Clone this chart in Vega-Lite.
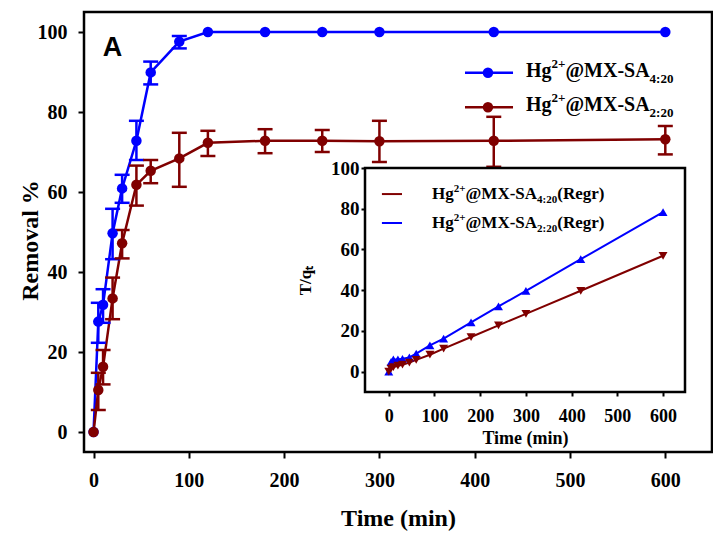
{
  "$schema": "https://vega.github.io/schema/vega-lite/v6.json",
  "width": 628,
  "height": 440,
  "autosize": {"type": "none"},
  "padding": {"left": 84, "top": 12, "right": 1, "bottom": 83},
  "background": "white",
  "config": {
    "view": {"stroke": "black", "strokeWidth": 2.5},
    "font": "Liberation Serif",
    "axis": {
      "labelFont": "Liberation Serif",
      "labelFontWeight": "bold",
      "titleFont": "Liberation Serif",
      "titleFontWeight": "bold",
      "labelColor": "black",
      "titleColor": "black",
      "tickColor": "black",
      "tickWidth": 2,
      "grid": false,
      "domain": false,
      "labelFlush": false,
      "labelOverlap": false
    },
    "text": {"font": "Liberation Serif", "fontWeight": "bold", "color": "black", "align": "left", "baseline": "alphabetic"}
  },
  "datasets": {
    "removal": [
      {"sample": "Hg2+@MX-SA4:20", "t": 0, "removal": 0},
      {"sample": "Hg2+@MX-SA4:20", "t": 5, "removal": 27.6, "lo": 22.3, "hi": 32.3},
      {"sample": "Hg2+@MX-SA4:20", "t": 10, "removal": 31.8, "lo": 27.3, "hi": 35.7},
      {"sample": "Hg2+@MX-SA4:20", "t": 20, "removal": 49.7, "lo": 43.2, "hi": 55.8},
      {"sample": "Hg2+@MX-SA4:20", "t": 30, "removal": 60.9, "lo": 57.3, "hi": 64.3},
      {"sample": "Hg2+@MX-SA4:20", "t": 45, "removal": 72.8, "lo": 68.0, "hi": 77.8},
      {"sample": "Hg2+@MX-SA4:20", "t": 60, "removal": 89.9, "lo": 86.9, "hi": 92.6},
      {"sample": "Hg2+@MX-SA4:20", "t": 90, "removal": 97.6, "lo": 95.9, "hi": 99.0},
      {"sample": "Hg2+@MX-SA4:20", "t": 120, "removal": 100},
      {"sample": "Hg2+@MX-SA4:20", "t": 180, "removal": 100},
      {"sample": "Hg2+@MX-SA4:20", "t": 240, "removal": 100},
      {"sample": "Hg2+@MX-SA4:20", "t": 300, "removal": 100},
      {"sample": "Hg2+@MX-SA4:20", "t": 420, "removal": 100},
      {"sample": "Hg2+@MX-SA4:20", "t": 600, "removal": 100},
      {"sample": "Hg2+@MX-SA2:20", "t": 0, "removal": 0},
      {"sample": "Hg2+@MX-SA2:20", "t": 5, "removal": 10.5, "lo": 5.5, "hi": 14.8},
      {"sample": "Hg2+@MX-SA2:20", "t": 10, "removal": 16.3, "lo": 11.9, "hi": 20.5},
      {"sample": "Hg2+@MX-SA2:20", "t": 20, "removal": 33.4, "lo": 28.2, "hi": 38.6},
      {"sample": "Hg2+@MX-SA2:20", "t": 30, "removal": 47.2, "lo": 43.4, "hi": 50.5},
      {"sample": "Hg2+@MX-SA2:20", "t": 45, "removal": 61.8, "lo": 56.6, "hi": 66.6},
      {"sample": "Hg2+@MX-SA2:20", "t": 60, "removal": 65.3, "lo": 62.2, "hi": 68.0},
      {"sample": "Hg2+@MX-SA2:20", "t": 90, "removal": 68.4, "lo": 61.3, "hi": 74.8},
      {"sample": "Hg2+@MX-SA2:20", "t": 120, "removal": 72.3, "lo": 69.0, "hi": 75.3},
      {"sample": "Hg2+@MX-SA2:20", "t": 180, "removal": 72.8, "lo": 69.7, "hi": 75.7},
      {"sample": "Hg2+@MX-SA2:20", "t": 240, "removal": 72.8, "lo": 70.0, "hi": 75.5},
      {"sample": "Hg2+@MX-SA2:20", "t": 300, "removal": 72.7, "lo": 67.5, "hi": 77.8},
      {"sample": "Hg2+@MX-SA2:20", "t": 420, "removal": 72.8, "lo": 66.3, "hi": 78.8},
      {"sample": "Hg2+@MX-SA2:20", "t": 600, "removal": 73.2, "lo": 69.4, "hi": 76.5}
    ],
    "kinetics": [
      {"series": "SA2:20 (Regr)", "t": 0, "tq": 0},
      {"series": "SA2:20 (Regr)", "t": 5, "tq": 4.8},
      {"series": "SA2:20 (Regr)", "t": 10, "tq": 6.0},
      {"series": "SA2:20 (Regr)", "t": 20, "tq": 6.0},
      {"series": "SA2:20 (Regr)", "t": 30, "tq": 6.3},
      {"series": "SA2:20 (Regr)", "t": 45, "tq": 7.0},
      {"series": "SA2:20 (Regr)", "t": 60, "tq": 8.8},
      {"series": "SA2:20 (Regr)", "t": 90, "tq": 12.9},
      {"series": "SA2:20 (Regr)", "t": 120, "tq": 16.2},
      {"series": "SA2:20 (Regr)", "t": 180, "tq": 24.2},
      {"series": "SA2:20 (Regr)", "t": 240, "tq": 32.0},
      {"series": "SA2:20 (Regr)", "t": 300, "tq": 39.7},
      {"series": "SA2:20 (Regr)", "t": 420, "tq": 55.2},
      {"series": "SA2:20 (Regr)", "t": 600, "tq": 78.3},
      {"series": "SA4:20 (Regr)", "t": 0, "tq": 0},
      {"series": "SA4:20 (Regr)", "t": 5, "tq": 1.5},
      {"series": "SA4:20 (Regr)", "t": 10, "tq": 2.2},
      {"series": "SA4:20 (Regr)", "t": 20, "tq": 2.9},
      {"series": "SA4:20 (Regr)", "t": 30, "tq": 3.4},
      {"series": "SA4:20 (Regr)", "t": 45, "tq": 4.4},
      {"series": "SA4:20 (Regr)", "t": 60, "tq": 5.8},
      {"series": "SA4:20 (Regr)", "t": 90, "tq": 8.3},
      {"series": "SA4:20 (Regr)", "t": 120, "tq": 11.3},
      {"series": "SA4:20 (Regr)", "t": 180, "tq": 17.0},
      {"series": "SA4:20 (Regr)", "t": 240, "tq": 22.7},
      {"series": "SA4:20 (Regr)", "t": 300, "tq": 28.4},
      {"series": "SA4:20 (Regr)", "t": 420, "tq": 39.7},
      {"series": "SA4:20 (Regr)", "t": 600, "tq": 56.9}
    ]
  },
  "layer": [
    {
      "data": {"name": "removal"},
      "mark": {"type": "line", "strokeWidth": 2.5},
      "encoding": {
        "x": {"field": "t", "type": "quantitative",
          "scale": {"domain": [-10, 649], "nice": false, "zero": false},
          "axis": {"title": "Time (min)", "orient": "bottom", "values": [0, 100, 200, 300, 400, 500, 600],
            "labelFontSize": 20, "titleFontSize": 24, "tickSize": 6, "labelPadding": 12,
            "titleY": 66, "titleBaseline": "middle"}},
        "y": {"field": "removal", "type": "quantitative",
          "scale": {"domain": [-5, 105], "nice": false, "zero": false},
          "axis": {"title": "Removal %", "orient": "left", "values": [0, 20, 40, 60, 80, 100],
            "labelFontSize": 20, "titleFontSize": 24, "tickSize": 6, "labelPadding": 11,
            "titleX": -54, "titleY": 228, "titleBaseline": "middle"}},
        "color": {"field": "sample", "type": "nominal",
          "scale": {"domain": ["Hg2+@MX-SA4:20", "Hg2+@MX-SA2:20"], "range": ["#0000ff", "#800000"]},
          "legend": null}
      }
    },
    {
      "data": {"name": "removal"},
      "transform": [{"filter": "isValid(datum.lo)"}],
      "mark": {"type": "rule", "strokeWidth": 2.5},
      "encoding": {
        "x": {"field": "t", "type": "quantitative", "scale": {"domain": [-10, 649], "nice": false, "zero": false}, "axis": null},
        "y": {"field": "lo", "type": "quantitative", "scale": {"domain": [-5, 105], "nice": false, "zero": false}, "axis": null},
        "y2": {"field": "hi"},
        "color": {"field": "sample", "type": "nominal",
          "scale": {"domain": ["Hg2+@MX-SA4:20", "Hg2+@MX-SA2:20"], "range": ["#0000ff", "#800000"]}, "legend": null}
      }
    },
    {
      "data": {"name": "removal"},
      "transform": [{"filter": "isValid(datum.lo)"}],
      "mark": {"type": "tick", "orient": "horizontal", "size": 15, "thickness": 2.5, "opacity": 1},
      "encoding": {
        "x": {"field": "t", "type": "quantitative", "scale": {"domain": [-10, 649], "nice": false, "zero": false}, "axis": null},
        "y": {"field": "lo", "type": "quantitative", "scale": {"domain": [-5, 105], "nice": false, "zero": false}, "axis": null},
        "color": {"field": "sample", "type": "nominal",
          "scale": {"domain": ["Hg2+@MX-SA4:20", "Hg2+@MX-SA2:20"], "range": ["#0000ff", "#800000"]}, "legend": null}
      }
    },
    {
      "data": {"name": "removal"},
      "transform": [{"filter": "isValid(datum.hi)"}],
      "mark": {"type": "tick", "orient": "horizontal", "size": 15, "thickness": 2.5, "opacity": 1},
      "encoding": {
        "x": {"field": "t", "type": "quantitative", "scale": {"domain": [-10, 649], "nice": false, "zero": false}, "axis": null},
        "y": {"field": "hi", "type": "quantitative", "scale": {"domain": [-5, 105], "nice": false, "zero": false}, "axis": null},
        "color": {"field": "sample", "type": "nominal",
          "scale": {"domain": ["Hg2+@MX-SA4:20", "Hg2+@MX-SA2:20"], "range": ["#0000ff", "#800000"]}, "legend": null}
      }
    },
    {
      "data": {"name": "removal"},
      "mark": {"type": "point", "filled": true, "size": 110, "opacity": 1, "shape": "circle"},
      "encoding": {
        "x": {"field": "t", "type": "quantitative", "scale": {"domain": [-10, 649], "nice": false, "zero": false}, "axis": null},
        "y": {"field": "removal", "type": "quantitative", "scale": {"domain": [-5, 105], "nice": false, "zero": false}, "axis": null},
        "color": {"field": "sample", "type": "nominal",
          "scale": {"domain": ["Hg2+@MX-SA4:20", "Hg2+@MX-SA2:20"], "range": ["#0000ff", "#800000"]}, "legend": null}
      }
    },
    {
      "data": {"values": [{}]},
      "mark": {"type": "text", "text": "A", "font": "Liberation Sans", "fontSize": 27, "align": "center", "baseline": "middle"},
      "encoding": {
        "x": {"datum": 20, "type": "quantitative", "scale": {"domain": [-10, 649], "nice": false, "zero": false}, "axis": null},
        "y": {"datum": 96, "type": "quantitative", "scale": {"domain": [-5, 105], "nice": false, "zero": false}, "axis": null}
      }
    },
    {
      "data": {"values": [{}]},
      "encoding": {
        "y": {"datum": 89.8, "type": "quantitative", "scale": {"domain": [-5, 105], "nice": false, "zero": false}, "axis": null}
      },
      "layer": [
        {
          "mark": {"type": "rule", "strokeWidth": 2.5, "color": "#0000ff"},
          "encoding": {
            "x": {"datum": 389.8, "type": "quantitative", "scale": {"domain": [-10, 649], "nice": false, "zero": false}, "axis": null},
            "x2": {"datum": 440.2}
          }
        },
        {
          "mark": {"type": "point", "filled": true, "size": 110, "opacity": 1, "shape": "circle", "color": "#0000ff"},
          "encoding": {"x": {"datum": 413.9, "type": "quantitative", "axis": null}}
        },
        {
          "mark": {"type": "text", "text": "Hg", "fontSize": 20, "dy": 4},
          "encoding": {"x": {"datum": 453.8, "type": "quantitative", "axis": null}}
        },
        {
          "mark": {"type": "text", "text": "2+", "fontSize": 13, "dx": 25.6, "dy": -5},
          "encoding": {"x": {"datum": 453.8, "type": "quantitative", "axis": null}}
        },
        {
          "mark": {"type": "text", "text": "@MX-SA", "fontSize": 20, "dx": 39.5, "dy": 4},
          "encoding": {"x": {"datum": 453.8, "type": "quantitative", "axis": null}}
        },
        {
          "mark": {"type": "text", "text": "4:20", "fontSize": 13, "dx": 123.6, "dy": 10},
          "encoding": {"x": {"datum": 453.8, "type": "quantitative", "axis": null}}
        }
      ]
    },
    {
      "data": {"values": [{}]},
      "encoding": {
        "y": {"datum": 81.2, "type": "quantitative", "scale": {"domain": [-5, 105], "nice": false, "zero": false}, "axis": null}
      },
      "layer": [
        {
          "mark": {"type": "rule", "strokeWidth": 2.5, "color": "#800000"},
          "encoding": {
            "x": {"datum": 389.8, "type": "quantitative", "scale": {"domain": [-10, 649], "nice": false, "zero": false}, "axis": null},
            "x2": {"datum": 440.2}
          }
        },
        {
          "mark": {"type": "point", "filled": true, "size": 110, "opacity": 1, "shape": "circle", "color": "#800000"},
          "encoding": {"x": {"datum": 413.9, "type": "quantitative", "axis": null}}
        },
        {
          "mark": {"type": "text", "text": "Hg", "fontSize": 20, "dy": 4},
          "encoding": {"x": {"datum": 453.8, "type": "quantitative", "axis": null}}
        },
        {
          "mark": {"type": "text", "text": "2+", "fontSize": 13, "dx": 25.6, "dy": -5},
          "encoding": {"x": {"datum": 453.8, "type": "quantitative", "axis": null}}
        },
        {
          "mark": {"type": "text", "text": "@MX-SA", "fontSize": 20, "dx": 39.5, "dy": 4},
          "encoding": {"x": {"datum": 453.8, "type": "quantitative", "axis": null}}
        },
        {
          "mark": {"type": "text", "text": "2:20", "fontSize": 13, "dx": 123.6, "dy": 10},
          "encoding": {"x": {"datum": 453.8, "type": "quantitative", "axis": null}}
        }
      ]
    },
    {
      "data": {"values": [{}]},
      "mark": {"type": "rect", "fill": "white", "stroke": "black", "strokeWidth": 2.5},
      "encoding": {
        "x": {"datum": -52, "type": "quantitative", "scale": {"domain": [-52, 648], "range": [281, 601], "nice": false, "zero": false}, "axis": null},
        "x2": {"datum": 648},
        "y": {"datum": -10, "type": "quantitative", "scale": {"domain": [-10, 100], "range": [380, 156], "nice": false, "zero": false}, "axis": null},
        "y2": {"datum": 100}
      }
    },
    {
      "data": {"name": "kinetics"},
      "mark": {"type": "line", "strokeWidth": 2},
      "encoding": {
        "x": {"field": "t", "type": "quantitative",
          "scale": {"domain": [-52, 648], "range": [281, 601], "nice": false, "zero": false},
          "axis": {"title": "Time (min)", "orient": "bottom", "offset": -60, "values": [0, 100, 200, 300, 400, 500, 600],
            "labelFontSize": 18, "titleFontSize": 18, "tickSize": 4, "labelPadding": 11,
            "titleY": 46, "titleBaseline": "middle"}},
        "y": {"field": "tq", "type": "quantitative",
          "scale": {"domain": [-10, 100], "range": [380, 156], "nice": false, "zero": false},
          "axis": {"title": "T/qₜ", "orient": "left", "offset": -281, "values": [0, 20, 40, 60, 80, 100],
            "labelFontSize": 19, "titleFontSize": 17, "tickSize": 4, "labelPadding": 2,
            "titleX": -60, "titleBaseline": "middle"}},
        "color": {"field": "series", "type": "nominal",
          "scale": {"domain": ["SA4:20 (Regr)", "SA2:20 (Regr)"], "range": ["#800000", "#0000ff"]},
          "legend": null}
      }
    },
    {
      "data": {"name": "kinetics"},
      "mark": {"type": "point", "filled": true, "size": 80, "opacity": 1},
      "encoding": {
        "x": {"field": "t", "type": "quantitative", "scale": {"domain": [-52, 648], "range": [281, 601], "nice": false, "zero": false}, "axis": null},
        "y": {"field": "tq", "type": "quantitative", "scale": {"domain": [-10, 100], "range": [380, 156], "nice": false, "zero": false}, "axis": null},
        "color": {"field": "series", "type": "nominal",
          "scale": {"domain": ["SA4:20 (Regr)", "SA2:20 (Regr)"], "range": ["#800000", "#0000ff"]}, "legend": null},
        "shape": {"field": "series", "type": "nominal",
          "scale": {"domain": ["SA4:20 (Regr)", "SA2:20 (Regr)"], "range": ["triangle-down", "triangle-up"]},
          "legend": null}
      }
    },
    {
      "data": {"values": [{}]},
      "encoding": {
        "y": {"datum": 87.2, "type": "quantitative", "scale": {"domain": [-10, 100], "range": [380, 156], "nice": false, "zero": false}, "axis": null}
      },
      "layer": [
        {
          "mark": {"type": "rule", "strokeWidth": 2, "color": "#800000"},
          "encoding": {
            "x": {"datum": -15, "type": "quantitative", "scale": {"domain": [-52, 648], "range": [281, 601], "nice": false, "zero": false}, "axis": null},
            "x2": {"datum": 29}
          }
        },
        {
          "mark": {"type": "text", "text": "Hg", "fontSize": 17, "dy": 5},
          "encoding": {"x": {"datum": 94.6, "type": "quantitative", "axis": null}}
        },
        {
          "mark": {"type": "text", "text": "2+", "fontSize": 11, "dx": 21.7, "dy": -2},
          "encoding": {"x": {"datum": 94.6, "type": "quantitative", "axis": null}}
        },
        {
          "mark": {"type": "text", "text": "@MX-SA", "fontSize": 17, "dx": 33.5, "dy": 5},
          "encoding": {"x": {"datum": 94.6, "type": "quantitative", "axis": null}}
        },
        {
          "mark": {"type": "text", "text": "4:20", "fontSize": 11, "dx": 105, "dy": 9},
          "encoding": {"x": {"datum": 94.6, "type": "quantitative", "axis": null}}
        },
        {
          "mark": {"type": "text", "text": "(Regr)", "fontSize": 17, "dx": 125.2, "dy": 5},
          "encoding": {"x": {"datum": 94.6, "type": "quantitative", "axis": null}}
        }
      ]
    },
    {
      "data": {"values": [{}]},
      "encoding": {
        "y": {"datum": 73, "type": "quantitative", "scale": {"domain": [-10, 100], "range": [380, 156], "nice": false, "zero": false}, "axis": null}
      },
      "layer": [
        {
          "mark": {"type": "rule", "strokeWidth": 2, "color": "#0000ff"},
          "encoding": {
            "x": {"datum": -15, "type": "quantitative", "scale": {"domain": [-52, 648], "range": [281, 601], "nice": false, "zero": false}, "axis": null},
            "x2": {"datum": 29}
          }
        },
        {
          "mark": {"type": "text", "text": "Hg", "fontSize": 17, "dy": 5},
          "encoding": {"x": {"datum": 94.6, "type": "quantitative", "axis": null}}
        },
        {
          "mark": {"type": "text", "text": "2+", "fontSize": 11, "dx": 21.7, "dy": -2},
          "encoding": {"x": {"datum": 94.6, "type": "quantitative", "axis": null}}
        },
        {
          "mark": {"type": "text", "text": "@MX-SA", "fontSize": 17, "dx": 33.5, "dy": 5},
          "encoding": {"x": {"datum": 94.6, "type": "quantitative", "axis": null}}
        },
        {
          "mark": {"type": "text", "text": "2:20", "fontSize": 11, "dx": 105, "dy": 9},
          "encoding": {"x": {"datum": 94.6, "type": "quantitative", "axis": null}}
        },
        {
          "mark": {"type": "text", "text": "(Regr)", "fontSize": 17, "dx": 125.2, "dy": 5},
          "encoding": {"x": {"datum": 94.6, "type": "quantitative", "axis": null}}
        }
      ]
    }
  ],
  "resolve": {"scale": {"x": "independent", "y": "independent", "color": "independent"}}
}
